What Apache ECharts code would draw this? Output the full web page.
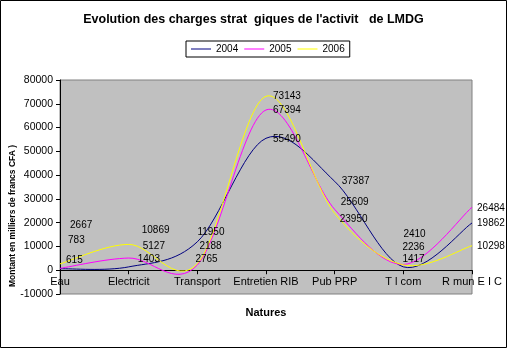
<!DOCTYPE html>
<html>
<head>
<meta charset="utf-8">
<script src="https://cdn.jsdelivr.net/npm/echarts@6/dist/echarts.min.js"></script>
<style>
html,body{margin:0;padding:0;background:#fff;}
#c{width:507px;height:348px;}
</style>
</head>
<body>
<div id="c"></div>
<script>
// ---- data ----
const categories = ['Eau', 'Electricit', 'Transport', 'Entretien RIB', 'Pub PRP', 'T l com', 'R mun E I C'];
const seriesNames = ['2004', '2005', '2006'];
const values2004 = [615, 1403, 11950, 55490, 37387, 1417, 19862];
const values2005 = [783, 5127, 2188, 67394, 25609, 2410, 26484];
const values2006 = [2667, 10869, 2765, 73143, 23950, 2236, 10298];
const yMin = -10000, yMax = 80000, yStep = 10000;

// ---- styling (label nudges, px) ----
const colors = ['#000080', '#FF00FF', '#FFFF00'];
const labelNudge = [
  [[1,-9],[4,-8],[-5,-10],[2,1],[2,0],[-6,-8],[0,0]],
  [[3,-28],[9,-12],[-3,-19],[2,0],[1,-7],[-5,-30],[0,1]],
  [[5,-39],[8,-14],[-7,-4],[2,0],[0,6],[-6,-18],[0,1]]
];
const allValues = [values2004, values2005, values2006];
const FONT = 'Liberation Sans, Arial, sans-serif';

// Spreadsheet-style smoothed curve (cardinal spline), drawn via the axes' own coordinate mapping
function curveSeries(si) {
  const vals = allValues[si];
  const n = vals.length;
  return {
    name: seriesNames[si],
    type: 'custom',
    silent: true,
    z: 3,
    data: vals.slice(0, n - 1).map((v, i) => [i, v]),
    renderItem: function (params, api) {
      const i = api.value(0);
      const P = j => { const k = Math.max(0, Math.min(n - 1, j)); return api.coord([k, vals[k]]); };
      const p0 = P(i - 1), p1 = P(i), p2 = P(i + 1), p3 = P(i + 2);
      return {
        type: 'bezierCurve',
        shape: {
          x1: p1[0], y1: p1[1], x2: p2[0], y2: p2[1],
          cpx1: p1[0] + (p2[0] - p0[0]) / 6, cpy1: p1[1] + (p2[1] - p0[1]) / 6,
          cpx2: p2[0] - (p3[0] - p1[0]) / 6, cpy2: p2[1] - (p3[1] - p1[1]) / 6
        },
        style: { stroke: colors[si], lineWidth: 1, fill: null }
      };
    }
  };
}

function labelSeries(si) {
  return {
    name: seriesNames[si],
    type: 'line',
    showSymbol: true,
    symbol: 'circle',
    symbolSize: 0.1,
    lineStyle: { color: colors[si], width: 1, opacity: 0 },
    itemStyle: { color: colors[si] },
    emphasis: { disabled: true },
    z: 4,
    label: {
      show: true, position: 'right', distance: 5,
      color: '#000', fontSize: 10, fontFamily: FONT
    },
    data: allValues[si].map((v, i) => ({ value: v, label: { offset: labelNudge[si][i] } }))
  };
}

const series = [];
seriesNames.forEach((n, si) => { series.push(labelSeries(si)); series.push(curveSeries(si)); });

const chart = echarts.init(document.getElementById('c'), null, { renderer: 'canvas' });
chart.setOption({
  animation: false,
  backgroundColor: '#fff',
  title: {
    text: "Evolution des charges strat  giques de l'activit   de LMDG",
    left: 'center', top: 8,
    textStyle: { fontSize: 12.5, fontWeight: 'bold', color: '#000', fontFamily: FONT }
  },
  legend: {
    data: seriesNames.map((n, si) => ({ name: n, icon: 'rect', itemStyle: { color: colors[si] } })),
    left: 186, top: 41,
    itemWidth: 20, itemHeight: 1, itemGap: 6,
    padding: [3, 5],
    borderColor: '#000', borderWidth: 1, backgroundColor: '#fff',
    textStyle: { fontSize: 10, color: '#000', fontFamily: FONT }
  },
  grid: {
    left: 60, top: 80, width: 412, height: 214,
    show: true, backgroundColor: '#C0C0C0', borderColor: '#808080', borderWidth: 1
  },
  xAxis: {
    type: 'category',
    data: categories,
    boundaryGap: false,
    axisLine: { onZero: false, lineStyle: { color: '#000', width: 1 } },
    axisTick: { show: true, length: 4, lineStyle: { color: '#000' } },
    axisLabel: { color: '#000', fontSize: 11, margin: 6, fontFamily: FONT, interval: 0 },
    splitLine: { show: false }
  },
  yAxis: {
    type: 'value',
    min: yMin, max: yMax, interval: yStep,
    axisLine: { show: true, lineStyle: { color: '#000', width: 1 } },
    axisTick: { show: true, length: 4, lineStyle: { color: '#000' } },
    axisLabel: { color: '#000', fontSize: 10.5, margin: 7, fontFamily: FONT, formatter: v => String(v) },
    splitLine: { show: false }
  },
  graphic: [
    { type: 'rect', shape: { x: 0.5, y: 0.5, width: 506, height: 347 },
      style: { fill: 'none', stroke: '#000', lineWidth: 1 }, z: 100, silent: true },
    { type: 'text', x: 13, y: 216, rotation: Math.PI / 2,
      style: { text: 'Montant en milliers de francs CFA )', fill: '#000',
        font: 'bold 8.5px "Liberation Sans", Arial, sans-serif',
        align: 'center', verticalAlign: 'middle' } },
    { type: 'text', x: 266, y: 313,
      style: { text: 'Natures', fill: '#000',
        font: 'bold 11px "Liberation Sans", Arial, sans-serif',
        align: 'center', verticalAlign: 'middle' } }
  ],
  series: series
});

// place the category axis on the zero line of the value axis
const zeroY = chart.convertToPixel({ yAxisIndex: 0 }, 0);
const bottomY = chart.convertToPixel({ yAxisIndex: 0 }, yMin);
chart.setOption({ xAxis: { offset: zeroY - bottomY } });
</script>
</body>
</html>
